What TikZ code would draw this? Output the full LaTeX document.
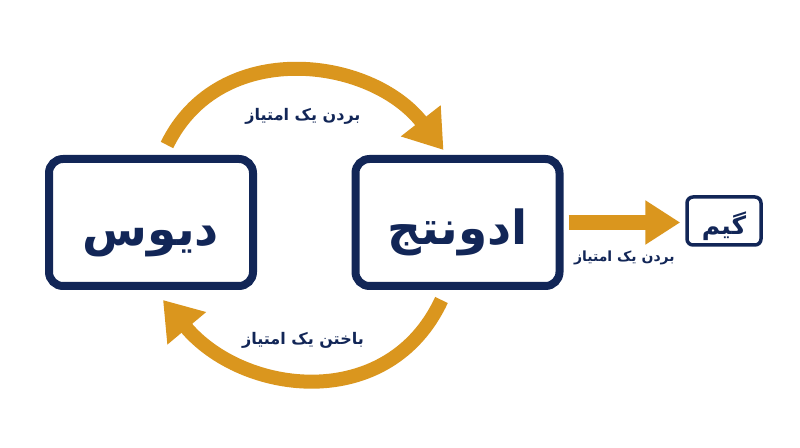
\documentclass[tikz,border=0pt]{standalone}
\usepackage{fontspec}
\usetikzlibrary{arrows.meta}
\TeXXeTstate=1
\newfontfamily\farsifont[Script=Arabic]{DejaVu Sans}
\definecolor{navy}{RGB}{18,38,87}
\definecolor{gold}{RGB}{218,150,30}

\begin{document}
\begin{tikzpicture}[x=1pt,y=1pt,
  bigbox/.style={draw=navy,line width=8pt,rounded corners=14pt,fill=white,
    minimum width=204pt,minimum height=127pt,text=navy,
    font=\farsifont\bfseries\fontsize{47}{56}\selectfont},
  gamebox/.style={draw=navy,line width=3.5pt,rounded corners=6pt,fill=white,
    minimum width=74pt,minimum height=48pt,text=navy,
    font=\farsifont\bfseries\fontsize{25}{30}\selectfont},
  flow/.style={draw=gold,line width=14pt,-{Triangle[width=48pt,length=37pt]}},
  flowlabel/.style={text=navy,font=\farsifont\bfseries\fontsize{16}{19}\selectfont}]
\useasboundingbox (0,0) rectangle (800,447);
% boxes
\node[bigbox] (deuce) at (151,224.5) {\raisebox{-19pt}[\height][\depth]{\beginR دیوس\endR}};
\node[bigbox] (advantage) at (457.5,224.5) {\raisebox{-10pt}[\height][\depth]{\beginR ادونتج\endR}};
\node[gamebox] (game) at (724,226) {\raisebox{-5pt}[\height][\depth]{\beginR گیم\endR}};
% arrows between the boxes
\draw[flow] ([xshift=16pt,yshift=10pt]deuce.north) to[out=64,in=128,looseness=1.1]
  ([xshift=-14pt,yshift=5pt]advantage.north);
\draw[flow] ([xshift=-16pt,yshift=-10pt]advantage.south) to[out=-115,in=-50,looseness=1.15]
  ([xshift=12pt,yshift=-10pt]deuce.south);
\draw[flow,line width=15pt,-{Triangle[width=42pt,length=35pt]}]
  ([xshift=5pt]advantage.east) -- ([xshift=-5pt]advantage.east -| game.west)
  node[flowlabel,font=\farsifont\bfseries\fontsize{14}{17}\selectfont,midway,yshift=-35pt] (gamelabel) {\beginR بردن یک امتیاز\endR};
% labels of the arcs
\node[flowlabel] (winlabel) at (303,331) {\beginR بردن یک امتیاز\endR};
\node[flowlabel] (loselabel) at (303,107) {\beginR باختن یک امتیاز\endR};
\end{tikzpicture}
\end{document}
